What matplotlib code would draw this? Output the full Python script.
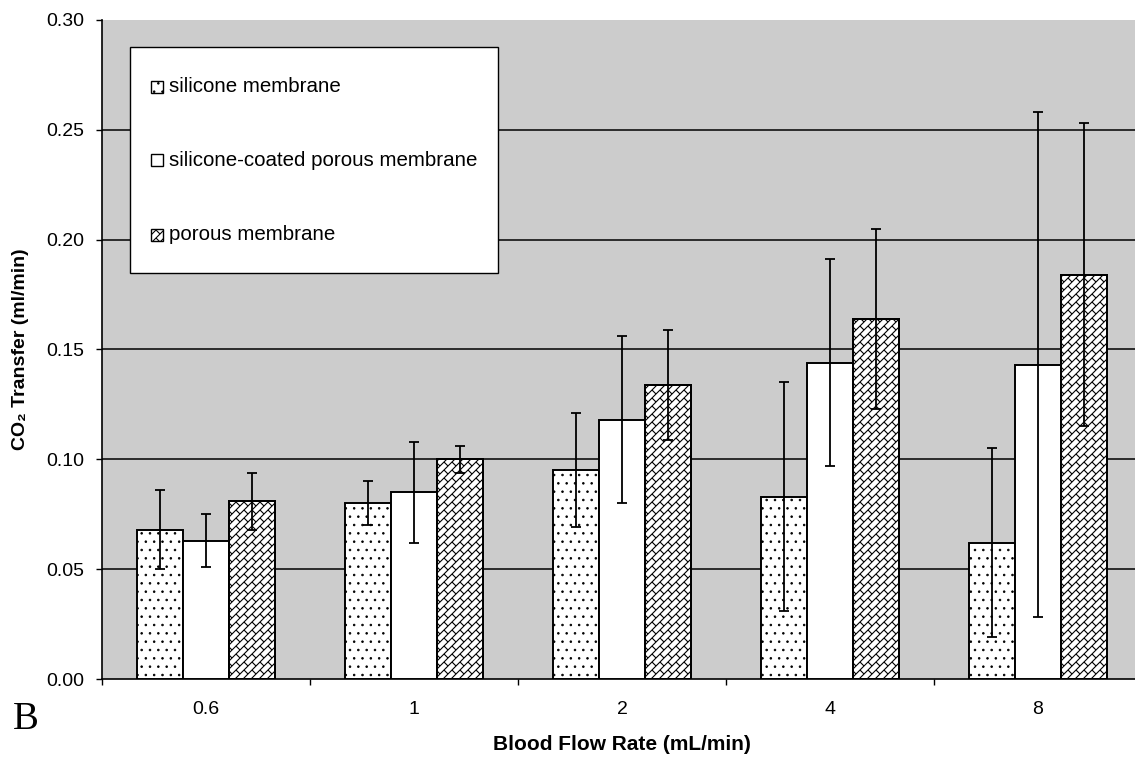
import numpy as np
import matplotlib
matplotlib.use("Agg")
import matplotlib.pyplot as plt
from matplotlib.patches import Rectangle
from matplotlib.collections import LineCollection
from matplotlib.transforms import IdentityTransform

# CO2 transfer per membrane type at each blood flow rate
flow_rates = ["0.6", "1", "2", "4", "8"]
series_names = ["silicone membrane", "silicone-coated porous membrane", "porous membrane"]

silicone = [0.068, 0.080, 0.095, 0.083, 0.062]
silicone_err = [0.018, 0.010, 0.026, 0.052, 0.043]
coated = [0.063, 0.085, 0.118, 0.144, 0.143]
coated_err = [0.012, 0.023, 0.038, 0.047, 0.115]
porous = [0.081, 0.100, 0.134, 0.164, 0.184]
porous_err = [0.013, 0.006, 0.025, 0.041, 0.069]

y_ticks = [0.00, 0.05, 0.10, 0.15, 0.20, 0.25, 0.30]

plt.rcParams['font.family'] = ['Liberation Sans', 'DejaVu Sans']
plt.rcParams['hatch.linewidth'] = 0.6
plt.rcParams['hatch.color'] = 'black'

DPI = 100
fig = plt.figure(figsize=(11.35, 7.62), dpi=DPI)
fig.patch.set_facecolor('white')
ax = fig.add_axes([102 / 1135, 83 / 762, 1040 / 1135, 659 / 762])
ax.set_facecolor('#cccccc')

x = np.arange(len(flow_rates))
w = 0.22
ax.set_xlim(-0.5, len(flow_rates) - 0.5)
ax.set_ylim(0, 0.30)

err_kw = dict(ecolor='black', elinewidth=1.3, capsize=3.3, capthick=1.3)
bars_sil = ax.bar(x - w, silicone, w, yerr=silicone_err, color='white',
                  edgecolor='black', linewidth=1.4, hatch='..', error_kw=err_kw, zorder=3)
bars_coat = ax.bar(x, coated, w, yerr=coated_err, color='white',
                   edgecolor='black', linewidth=1.4, error_kw=err_kw, zorder=3)
bars_por = ax.bar(x + w, porous, w, color='white',
                  edgecolor='black', linewidth=1.4, zorder=3)
ax.errorbar(x + w, porous, yerr=porous_err, fmt='none', zorder=5, **err_kw)


def brick_segments(x0, y0, x1, y1, gap=8.0, step=16.0):
    """Diagonal brick pattern in pixel coordinates: '/' mortar lines
    with staggered '\\' joints between them."""
    segs = []
    pad = 20
    k0 = int(np.floor((y0 - x1 - pad) / gap)) - 1
    k1 = int(np.ceil((y1 - x0 + pad) / gap)) + 1
    s_lo, s_hi = x0 + y0 - 2 * pad, x1 + y1 + 2 * pad
    for k in range(k0, k1 + 1):
        c = k * gap
        segs.append([(x0 - pad, x0 - pad + c), (x1 + pad, x1 + pad + c)])
        j0 = int(np.floor(s_lo / step)) - 1
        j1 = int(np.ceil(s_hi / step)) + 1
        for j in range(j0, j1 + 1):
            s = j * step + (k % 2) * step / 2
            t = (s - c) / 2
            segs.append([(t, t + c), (t - gap / 2, t + c + gap / 2)])
    return segs


def add_bricks(patch, zorder=3.5):
    bb = patch.get_window_extent()
    lc = LineCollection(brick_segments(bb.x0, bb.y0, bb.x1, bb.y1),
                        colors='black', linewidths=0.8,
                        transform=IdentityTransform(), zorder=zorder)
    ax.add_collection(lc)
    lc.set_clip_path(patch)
    return lc


for bar in bars_por:
    add_bricks(bar)
    # outline on top of the pattern
    ax.bar(bar.get_x() + bar.get_width() / 2, bar.get_height(), bar.get_width(),
           color='none', edgecolor='black', linewidth=1.4, zorder=4)

# y axis
ax.set_yticks(y_ticks)
ax.set_yticklabels([f"{v:.2f}" for v in y_ticks])
ax.yaxis.grid(True, color='black', linewidth=1.1, zorder=1)
ax.set_axisbelow(True)
ax.get_ygridlines()[-1].set_visible(False)
ax.get_ygridlines()[0].set_visible(False)
ax.tick_params(axis='y', direction='out', length=4.5, width=1, pad=8.5,
               labelsize=14, colors='black')

# x axis: boundary ticks, labels at category centres
ax.set_xticks(np.arange(-0.5, len(flow_rates)), labels=[''] * (len(flow_rates) + 1))
ax.set_xticks(x, labels=flow_rates, minor=True)
ax.tick_params(axis='x', which='major', direction='out', length=4.5, width=1)
ax.tick_params(axis='x', which='minor', length=0, pad=16, labelsize=14)

for side in ['top', 'right']:
    ax.spines[side].set_visible(False)
for side in ['left', 'bottom']:
    ax.spines[side].set_linewidth(1.2)
    ax.spines[side].set_color('black')

ax.set_xlabel("Blood Flow Rate (mL/min)", fontsize=15, fontweight='bold', labelpad=12)
ax.set_ylabel("CO\u2082 Transfer (ml/min)", fontsize=14, fontweight='bold', labelpad=12)


# legend box, placed in pixel units converted to axes fractions
def ax_xy(px, py):
    return (px - 102) / 1040, (679 - py) / 659


lx0, ly0 = ax_xy(130, 273)
lx1, ly1 = ax_xy(498, 47)
ax.add_patch(Rectangle((lx0, ly0), lx1 - lx0, ly1 - ly0, transform=ax.transAxes,
                       facecolor='white', edgecolor='black', linewidth=1.0, zorder=10))
sq = 12
entry_y = [87, 160, 235]
for name, py, hatch in zip(series_names, entry_y, ['..', None, 'brick']):
    sx, sy = ax_xy(151, py + sq / 2)
    box = Rectangle((sx, sy), sq / 1040, sq / 659, transform=ax.transAxes,
                    facecolor='white', edgecolor='black', linewidth=1.0, zorder=11,
                    hatch=None if hatch == 'brick' else hatch)
    ax.add_patch(box)
    if hatch == 'brick':
        add_bricks(box, zorder=11.5)
    tx, ty = ax_xy(169, py)
    ax.text(tx, ty, name, transform=ax.transAxes, fontsize=14.8, va='center',
            ha='left', zorder=12)

fig.text(13 / 1135, 33 / 762, "B", fontsize=28, family='Liberation Serif',
         ha='left', va='baseline')

fig.savefig("out.png", dpi=DPI)
